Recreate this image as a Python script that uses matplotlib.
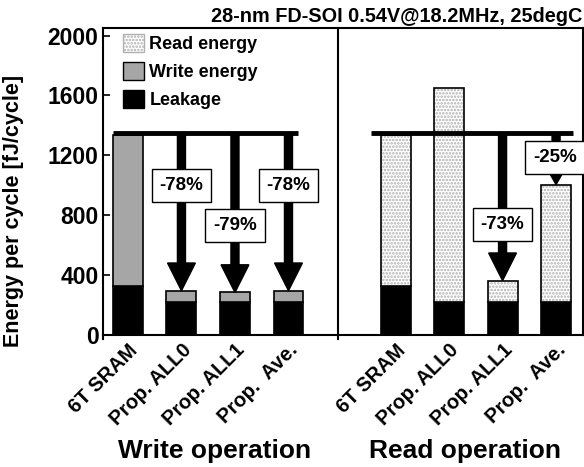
import numpy as np
import matplotlib
matplotlib.use('Agg')
import matplotlib.pyplot as plt
from matplotlib.patches import Patch

plt.rcParams['font.family'] = ['Liberation Sans', 'DejaVu Sans']
plt.rcParams['font.weight'] = 'bold'
plt.rcParams['axes.labelweight'] = 'bold'
plt.rcParams['axes.titleweight'] = 'bold'
plt.rcParams['hatch.linewidth'] = 1.2

# data (fJ/cycle)
designs = ['6T SRAM', 'Prop. ALL0', 'Prop. ALL1', 'Prop.  Ave.']
write_leak = [327, 222, 222, 222]
write_total = [1333, 295, 283, 295]
read_leak = [327, 222, 222, 222]
read_total = [1333, 1649, 362, 1004]
write_pct = ['-78%', '-79%', '-78%']
read_pct = ['-73%', '-25%']
baseline = 1347

xw = np.arange(4)
xr = np.arange(5, 9)
bw = 0.56

fig = plt.figure(figsize=(5.84, 4.67), dpi=100)
ax = fig.add_axes([0.176, 0.283, 0.822, 0.657])

# write group
ax.bar(xw, write_leak, bw, color='black', edgecolor='black', linewidth=1.2, zorder=2)
ax.bar(xw, np.subtract(write_total, write_leak), bw, bottom=write_leak,
       color='#a6a6a6', edgecolor='black', linewidth=1.2, zorder=2)

# read group
ax.bar(xr, read_leak, bw, color='black', edgecolor='black', linewidth=1.2, zorder=2)
rh = np.subtract(read_total, read_leak)
ax.bar(xr, rh, bw, bottom=read_leak, color='white', edgecolor='#b0b0b0',
       hatch='.....', linewidth=0, zorder=2)
ax.bar(xr, rh, bw, bottom=read_leak, fill=False, edgecolor='black',
       linewidth=1.2, zorder=3)

# baseline lines
ax.plot([-0.28, 3.17], [baseline, baseline], color='black', lw=3.5, zorder=4, solid_capstyle='butt')
ax.plot([4.54, 8.32], [baseline, baseline], color='black', lw=3.5, zorder=4, solid_capstyle='butt')

box = dict(boxstyle='square,pad=0.42', fc='white', ec='black', lw=1.0)

def big_arrow(x, y_end, label, y_label):
    ax.arrow(x, baseline, 0, y_end - baseline, width=0.15, head_width=0.52,
             head_length=185, length_includes_head=True, fc='black', ec='black', zorder=5)
    ax.text(x, y_label, label, ha='center', va='center', fontsize=13.5, bbox=box, zorder=6)

big_arrow(xw[1], write_total[1], write_pct[0], 1000)
big_arrow(xw[2], write_total[2], write_pct[1], 733)
big_arrow(xw[3], write_total[3], write_pct[2], 1000)
big_arrow(xr[2], read_total[2], read_pct[0], 737)

# small arrow for read Ave
ax.arrow(xr[3], baseline, 0, read_total[3] - baseline, width=0.15, head_width=0.27,
         head_length=85, length_includes_head=True, fc='black', ec='black', zorder=5)
ax.text(xr[3] - 0.02, 1187, read_pct[1], ha='center', va='center', fontsize=13.5, bbox=box, zorder=6)

# divider
ax.plot([3.93, 3.93], [-30, 2050], color='black', lw=1.5, clip_on=False, zorder=4)
ax.plot([-0.47, -0.47], [-30, 0], color='black', lw=1.5, clip_on=False, zorder=4)

ax.set_xlim(-0.47, 8.5)
ax.set_ylim(0, 2050)
ax.set_yticks([0, 400, 800, 1200, 1600, 2000])
ax.tick_params(axis='y', direction='in', length=5, width=1.2, labelsize=16.5, pad=3)
ax.set_xticks(list(xw) + list(xr))
ax.set_xticklabels(designs + designs, rotation=45, ha='right', rotation_mode='anchor',
                   fontsize=14.5)
ax.tick_params(axis='x', length=0, pad=4)
for s in ax.spines.values():
    s.set_linewidth(1.5)

ax.set_ylabel('Energy per cycle [fJ/cycle]', fontsize=15.5)
ax.yaxis.set_label_coords(-0.165, 0.405)
ax.set_title('28-nm FD-SOI 0.54V@18.2MHz, 25degC', loc='right', fontsize=14.3, pad=4)

fig.text(0.368, 0.019, 'Write operation', ha='center', va='baseline', fontsize=19)
fig.text(0.797, 0.019, 'Read operation', ha='center', va='baseline', fontsize=19)

handles = [Patch(facecolor='white', edgecolor='#b0b0b0', hatch='.....', label='Read energy'),
           Patch(facecolor='#a6a6a6', edgecolor='black', label='Write energy'),
           Patch(facecolor='black', edgecolor='black', label='Leakage')]
ax.legend(handles=handles, loc='upper left', frameon=False, fontsize=13,
          handlelength=1.15, handleheight=1.15, handletextpad=0.3, labelspacing=0.5,
          borderaxespad=0.2, bbox_to_anchor=(0.02, 1.017))

fig.savefig('out.png', dpi=100)
